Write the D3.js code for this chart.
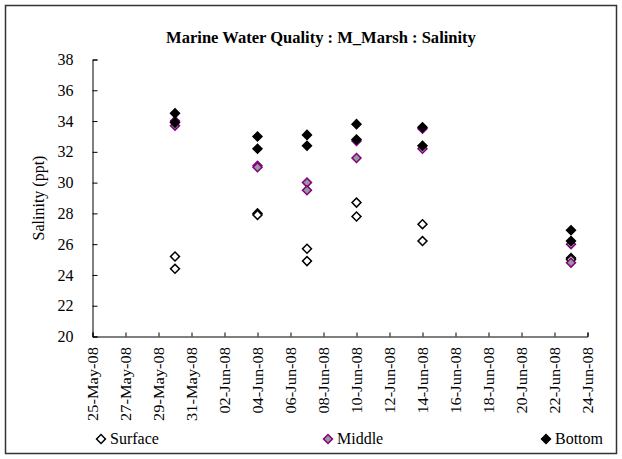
<!DOCTYPE html>
<html><head><meta charset="utf-8">
<script src="https://cdn.jsdelivr.net/npm/d3@7"></script>
<style>
html,body{margin:0;padding:0;background:#fff;}
text{font-family:"Liberation Serif","Times New Roman",serif;fill:#000;}
</style></head>
<body><div id="chart"></div>
<script>
const dates = ["2008-05-30","2008-06-04","2008-06-07","2008-06-10","2008-06-14","2008-06-23"];
const surface1 = [25.2, 28.0, 25.7, 28.7, 27.3, 25.1];
const surface2 = [24.4, 27.9, 24.9, 27.8, 26.2, 25.0];
const middle1  = [34.0, 31.1, 30.0, 32.7, 33.5, 26.0];
const middle2  = [33.7, 31.0, 29.5, 31.6, 32.2, 24.8];
const bottom1  = [34.5, 33.0, 33.1, 33.8, 33.6, 26.9];
const bottom2  = [33.9, 32.2, 32.4, 32.8, 32.4, 26.2];
const yTicks = [20,22,24,26,28,30,32,34,36,38];
const xStart = "2008-05-25", xEnd = "2008-06-24";
const title = "Marine Water Quality : M_Marsh : Salinity";
const yTitle = "Salinity (ppt)";
const seriesNames = ["Surface","Middle","Bottom"];

const W = 622, H = 459;
const parse = d3.utcParse("%Y-%m-%d");
const svg = d3.select("#chart").append("svg").attr("width", W).attr("height", H);

svg.append("rect").attr("x",5.5).attr("y",5.5).attr("width",611).attr("height",448)
  .attr("fill","#fff").attr("stroke","#333").attr("stroke-width",1.5);

const x = d3.scaleUtc().domain([parse(xStart), parse(xEnd)]).range([92.5, 587.5]);
const y = d3.scaleLinear().domain([20,38]).range([336.5, 59.5]);

const t = svg.append("text").attr("x",321).attr("y",43).attr("text-anchor","middle")
  .attr("font-weight","bold").attr("font-size",15).text(title);
const tl = t.node().getComputedTextLength();
t.attr("font-size", 15 * 310 / tl);

// y axis
const yAxis = svg.append("g").attr("transform","translate(92.5,0)")
  .call(d3.axisRight(y).tickValues(yTicks).tickSize(5).tickFormat(d3.format("d")));
yAxis.select(".domain").attr("stroke","#000");
yAxis.selectAll(".tick line").attr("stroke","#000");
yAxis.selectAll(".tick text").attr("x",-19).attr("text-anchor","end").attr("font-size",16)
  .attr("fill","#000");

// x axis
const xTickVals = d3.utcDay.range(parse(xStart), d3.utcDay.offset(parse(xEnd),1), 2);
const fmt = d3.utcFormat("%d-%b-%y");
const xAxis = svg.append("g").attr("transform","translate(0,336.5)")
  .call(d3.axisTop(x).tickValues(xTickVals).tickSize(4).tickFormat(""));
xAxis.select(".domain").attr("stroke","#000");
xAxis.selectAll(".tick line").attr("stroke","#000");
const xl = svg.append("g").selectAll("text").data(xTickVals).join("text")
  .attr("text-anchor","end").attr("dy","0.35em").attr("font-size",15)
  .attr("transform", d => `translate(${x(d)},347) rotate(-90)`)
  .text(d => fmt(d));
const bb = xl.node().getBoundingClientRect();
const sx = 74 / bb.height;
xl.attr("transform", d => `translate(${x(d)},347) rotate(-90) scale(${sx},1)`);

svg.append("text").attr("transform","translate(44,198) rotate(-90)")
  .attr("text-anchor","middle").attr("font-size",16).text(yTitle);

const diamond = d3.symbol().type(d3.symbolSquare).size(40);
const styles = [
  {fill:"#fff", stroke:"#000"},
  {fill:"#999", stroke:"#800080"},
  {fill:"#000", stroke:"#000"}
];
const groups = [[surface1,surface2],[middle1,middle2],[bottom1,bottom2]];
groups.forEach((arrs, i) => {
  const pts = [];
  arrs.forEach(a => a.forEach((v,j) => pts.push({d:parse(dates[j]), v})));
  svg.append("g").selectAll("path").data(pts).join("path")
    .attr("d", diamond)
    .attr("transform", p => `translate(${x(p.d)},${y(p.v)}) rotate(45)`)
    .attr("fill", styles[i].fill).attr("stroke", styles[i].stroke).attr("stroke-width",1.5);
});

// legend
const legX = [101, 328, 546];
seriesNames.forEach((n,i) => {
  svg.append("path").attr("d", diamond)
    .attr("transform", `translate(${legX[i]},439) rotate(45)`)
    .attr("fill", styles[i].fill).attr("stroke", styles[i].stroke).attr("stroke-width",1.5);
  svg.append("text").attr("x", legX[i]+9).attr("y",444).attr("font-size",16).text(n);
});
</script></body></html>
